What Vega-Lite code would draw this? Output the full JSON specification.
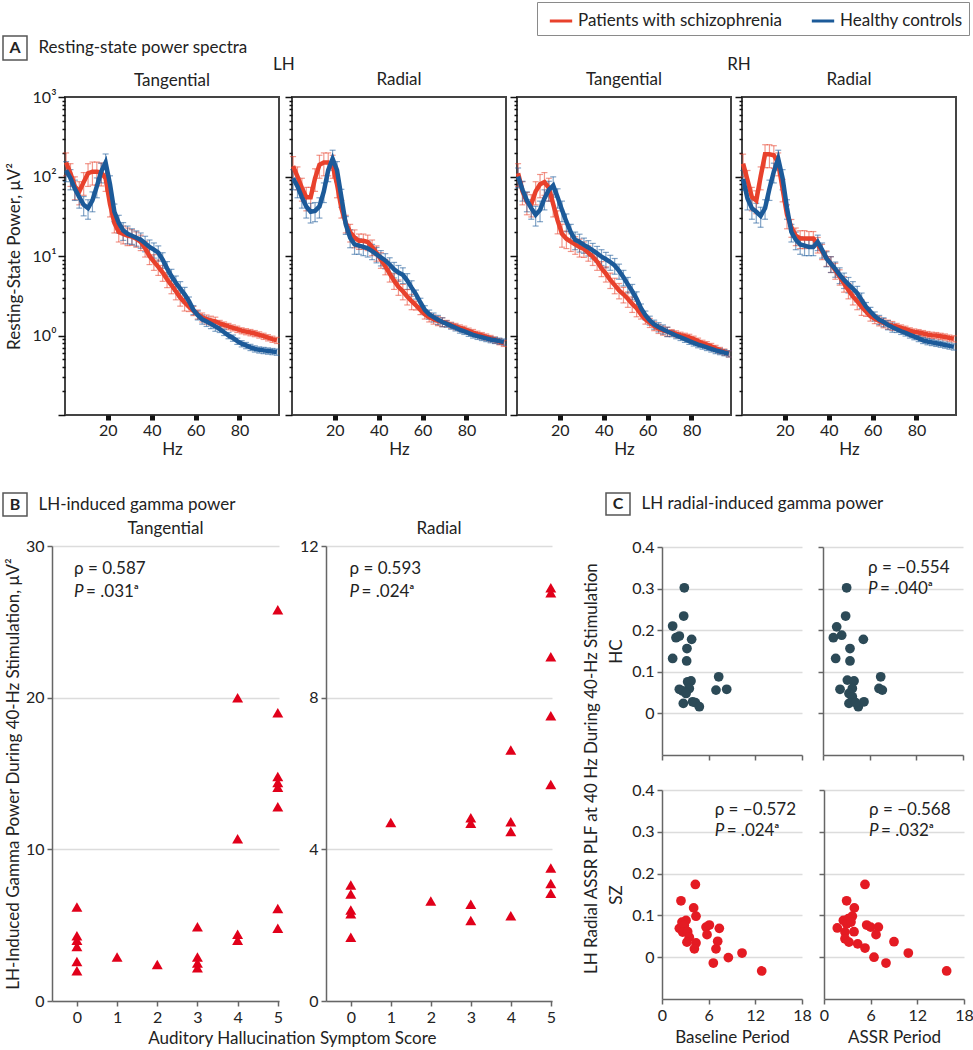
{
  "$schema": "https://vega.github.io/schema/vega-lite/v6.json",
  "padding": {"left": 2, "top": 1, "right": 0, "bottom": 0},
  "background": "white",
  "config": {
    "font": "Lato",
    "view": {"stroke": null},
    "axis": {"labelFont": "Lato", "titleFont": "Lato", "labelFontSize": 16, "titleFontSize": 17, "titleFontWeight": "normal", "labelColor": "#222", "titleColor": "#222", "domainColor": "#666", "domainWidth": 1.5, "tickColor": "#666", "tickWidth": 1.5, "gridColor": "#dcdcdc", "gridWidth": 1.5, "labelFlush": false},
    "title": {"font": "Lato", "fontSize": 17, "fontWeight": "normal", "color": "#222"},
    "legend": {"orient": "none", "legendX": 534, "legendY": -34, "direction": "horizontal", "strokeColor": "#8a8a8a", "padding": 6, "symbolOffset": 5, "symbolType": "stroke", "symbolStrokeWidth": 3, "symbolSize": 500, "symbolOpacity": 1, "labelFontSize": 17, "labelFont": "Lato", "labelColor": "#222", "labelLimit": 0, "columnPadding": 22, "labelOffset": 4}
  },
  "datasets": {
    "spectra": [
      {"p":"LT","g":"SZ","f":1,"v":150,"e":48},{"p":"LT","g":"SZ","f":3,"v":110,"e":35},{"p":"LT","g":"SZ","f":5,"v":75,"e":24},{"p":"LT","g":"SZ","f":7,"v":65,"e":21},{"p":"LT","g":"SZ","f":9,"v":85,"e":27},{"p":"LT","g":"SZ","f":11,"v":110,"e":35},{"p":"LT","g":"SZ","f":13,"v":115,"e":37},{"p":"LT","g":"SZ","f":15,"v":115,"e":37},{"p":"LT","g":"SZ","f":17,"v":112,"e":36},{"p":"LT","g":"SZ","f":19,"v":95,"e":30},{"p":"LT","g":"SZ","f":21,"v":45,"e":14},{"p":"LT","g":"SZ","f":23,"v":26,"e":6.5},{"p":"LT","g":"SZ","f":25,"v":20,"e":5},{"p":"LT","g":"SZ","f":27,"v":19,"e":4.8},{"p":"LT","g":"SZ","f":29,"v":18,"e":4.5},{"p":"LT","g":"SZ","f":31,"v":17.5,"e":3.9},{"p":"LT","g":"SZ","f":33,"v":16.5,"e":3.6},{"p":"LT","g":"SZ","f":35,"v":15,"e":3.3},{"p":"LT","g":"SZ","f":37,"v":12.5,"e":2.8},{"p":"LT","g":"SZ","f":39,"v":10,"e":2.2},{"p":"LT","g":"SZ","f":41,"v":8.5,"e":1.9},{"p":"LT","g":"SZ","f":43,"v":7.3,"e":1.6},{"p":"LT","g":"SZ","f":45,"v":6.2,"e":1.4},{"p":"LT","g":"SZ","f":47,"v":5.1,"e":1.1},{"p":"LT","g":"SZ","f":49,"v":4.3,"e":0.95},{"p":"LT","g":"SZ","f":51,"v":3.6,"e":0.79},{"p":"LT","g":"SZ","f":53,"v":3,"e":0.66},{"p":"LT","g":"SZ","f":55,"v":2.6,"e":0.57},{"p":"LT","g":"SZ","f":57,"v":2.3,"e":0.3},{"p":"LT","g":"SZ","f":59,"v":2.05,"e":0.27},{"p":"LT","g":"SZ","f":61,"v":1.85,"e":0.24},{"p":"LT","g":"SZ","f":63,"v":1.7,"e":0.22},{"p":"LT","g":"SZ","f":65,"v":1.6,"e":0.21},{"p":"LT","g":"SZ","f":67,"v":1.55,"e":0.2},{"p":"LT","g":"SZ","f":69,"v":1.5,"e":0.2},{"p":"LT","g":"SZ","f":71,"v":1.42,"e":0.13},{"p":"LT","g":"SZ","f":73,"v":1.36,"e":0.12},{"p":"LT","g":"SZ","f":75,"v":1.3,"e":0.12},{"p":"LT","g":"SZ","f":77,"v":1.25,"e":0.11},{"p":"LT","g":"SZ","f":79,"v":1.2,"e":0.11},{"p":"LT","g":"SZ","f":81,"v":1.15,"e":0.1},{"p":"LT","g":"SZ","f":83,"v":1.12,"e":0.1},{"p":"LT","g":"SZ","f":85,"v":1.09,"e":0.1},{"p":"LT","g":"SZ","f":87,"v":1.06,"e":0.095},{"p":"LT","g":"SZ","f":89,"v":1.02,"e":0.092},{"p":"LT","g":"SZ","f":91,"v":0.98,"e":0.088},{"p":"LT","g":"SZ","f":93,"v":0.94,"e":0.085},{"p":"LT","g":"SZ","f":95,"v":0.9,"e":0.081},{"p":"LT","g":"SZ","f":97,"v":0.87,"e":0.078},
      {"p":"LT","g":"HC","f":1,"v":120,"e":34},{"p":"LT","g":"HC","f":3,"v":95,"e":27},{"p":"LT","g":"HC","f":5,"v":70,"e":20},{"p":"LT","g":"HC","f":7,"v":55,"e":15},{"p":"LT","g":"HC","f":9,"v":44,"e":12},{"p":"LT","g":"HC","f":11,"v":40,"e":11},{"p":"LT","g":"HC","f":13,"v":50,"e":14},{"p":"LT","g":"HC","f":15,"v":75,"e":21},{"p":"LT","g":"HC","f":17,"v":115,"e":32},{"p":"LT","g":"HC","f":19,"v":150,"e":42},{"p":"LT","g":"HC","f":21,"v":80,"e":22},{"p":"LT","g":"HC","f":23,"v":36,"e":9},{"p":"LT","g":"HC","f":25,"v":26,"e":6.5},{"p":"LT","g":"HC","f":27,"v":21,"e":5.3},{"p":"LT","g":"HC","f":29,"v":19,"e":4.8},{"p":"LT","g":"HC","f":31,"v":18,"e":4},{"p":"LT","g":"HC","f":33,"v":17,"e":3.7},{"p":"LT","g":"HC","f":35,"v":16,"e":3.5},{"p":"LT","g":"HC","f":37,"v":14.5,"e":3.2},{"p":"LT","g":"HC","f":39,"v":13,"e":2.9},{"p":"LT","g":"HC","f":41,"v":12,"e":2.6},{"p":"LT","g":"HC","f":43,"v":11,"e":2.4},{"p":"LT","g":"HC","f":45,"v":9,"e":2},{"p":"LT","g":"HC","f":47,"v":7,"e":1.5},{"p":"LT","g":"HC","f":49,"v":5.6,"e":1.2},{"p":"LT","g":"HC","f":51,"v":4.6,"e":1},{"p":"LT","g":"HC","f":53,"v":3.9,"e":0.86},{"p":"LT","g":"HC","f":55,"v":3.3,"e":0.73},{"p":"LT","g":"HC","f":57,"v":2.7,"e":0.35},{"p":"LT","g":"HC","f":59,"v":2.1,"e":0.27},{"p":"LT","g":"HC","f":61,"v":1.8,"e":0.23},{"p":"LT","g":"HC","f":63,"v":1.6,"e":0.21},{"p":"LT","g":"HC","f":65,"v":1.5,"e":0.2},{"p":"LT","g":"HC","f":67,"v":1.4,"e":0.18},{"p":"LT","g":"HC","f":69,"v":1.3,"e":0.17},{"p":"LT","g":"HC","f":71,"v":1.2,"e":0.11},{"p":"LT","g":"HC","f":73,"v":1.1,"e":0.1},{"p":"LT","g":"HC","f":75,"v":1,"e":0.09},{"p":"LT","g":"HC","f":77,"v":0.93,"e":0.084},{"p":"LT","g":"HC","f":79,"v":0.85,"e":0.077},{"p":"LT","g":"HC","f":81,"v":0.79,"e":0.071},{"p":"LT","g":"HC","f":83,"v":0.75,"e":0.068},{"p":"LT","g":"HC","f":85,"v":0.71,"e":0.064},{"p":"LT","g":"HC","f":87,"v":0.68,"e":0.061},{"p":"LT","g":"HC","f":89,"v":0.66,"e":0.059},{"p":"LT","g":"HC","f":91,"v":0.65,"e":0.059},{"p":"LT","g":"HC","f":93,"v":0.64,"e":0.058},{"p":"LT","g":"HC","f":95,"v":0.63,"e":0.057},{"p":"LT","g":"HC","f":97,"v":0.62,"e":0.056},
      {"p":"LR","g":"SZ","f":1,"v":135,"e":43},{"p":"LR","g":"SZ","f":3,"v":100,"e":32},{"p":"LR","g":"SZ","f":5,"v":72,"e":23},{"p":"LR","g":"SZ","f":7,"v":55,"e":18},{"p":"LR","g":"SZ","f":9,"v":55,"e":18},{"p":"LR","g":"SZ","f":11,"v":95,"e":30},{"p":"LR","g":"SZ","f":13,"v":140,"e":45},{"p":"LR","g":"SZ","f":15,"v":150,"e":48},{"p":"LR","g":"SZ","f":17,"v":150,"e":48},{"p":"LR","g":"SZ","f":19,"v":140,"e":45},{"p":"LR","g":"SZ","f":21,"v":80,"e":26},{"p":"LR","g":"SZ","f":23,"v":40,"e":10},{"p":"LR","g":"SZ","f":25,"v":26,"e":6.5},{"p":"LR","g":"SZ","f":27,"v":20,"e":5},{"p":"LR","g":"SZ","f":29,"v":17,"e":4.3},{"p":"LR","g":"SZ","f":31,"v":15.5,"e":3.4},{"p":"LR","g":"SZ","f":33,"v":15.5,"e":3.4},{"p":"LR","g":"SZ","f":35,"v":15,"e":3.3},{"p":"LR","g":"SZ","f":37,"v":13,"e":2.9},{"p":"LR","g":"SZ","f":39,"v":11,"e":2.4},{"p":"LR","g":"SZ","f":41,"v":9,"e":2},{"p":"LR","g":"SZ","f":43,"v":7.4,"e":1.6},{"p":"LR","g":"SZ","f":45,"v":6,"e":1.3},{"p":"LR","g":"SZ","f":47,"v":4.9,"e":1.1},{"p":"LR","g":"SZ","f":49,"v":4.1,"e":0.9},{"p":"LR","g":"SZ","f":51,"v":3.6,"e":0.79},{"p":"LR","g":"SZ","f":53,"v":3.1,"e":0.68},{"p":"LR","g":"SZ","f":55,"v":2.7,"e":0.59},{"p":"LR","g":"SZ","f":57,"v":2.4,"e":0.31},{"p":"LR","g":"SZ","f":59,"v":2.1,"e":0.27},{"p":"LR","g":"SZ","f":61,"v":1.85,"e":0.24},{"p":"LR","g":"SZ","f":63,"v":1.7,"e":0.22},{"p":"LR","g":"SZ","f":65,"v":1.6,"e":0.21},{"p":"LR","g":"SZ","f":67,"v":1.53,"e":0.2},{"p":"LR","g":"SZ","f":69,"v":1.48,"e":0.19},{"p":"LR","g":"SZ","f":71,"v":1.42,"e":0.13},{"p":"LR","g":"SZ","f":73,"v":1.35,"e":0.12},{"p":"LR","g":"SZ","f":75,"v":1.3,"e":0.12},{"p":"LR","g":"SZ","f":77,"v":1.25,"e":0.11},{"p":"LR","g":"SZ","f":79,"v":1.2,"e":0.11},{"p":"LR","g":"SZ","f":81,"v":1.14,"e":0.1},{"p":"LR","g":"SZ","f":83,"v":1.09,"e":0.1},{"p":"LR","g":"SZ","f":85,"v":1.04,"e":0.094},{"p":"LR","g":"SZ","f":87,"v":1,"e":0.09},{"p":"LR","g":"SZ","f":89,"v":0.96,"e":0.086},{"p":"LR","g":"SZ","f":91,"v":0.92,"e":0.083},{"p":"LR","g":"SZ","f":93,"v":0.88,"e":0.079},{"p":"LR","g":"SZ","f":95,"v":0.84,"e":0.076},{"p":"LR","g":"SZ","f":97,"v":0.8,"e":0.072},
      {"p":"LR","g":"HC","f":1,"v":95,"e":27},{"p":"LR","g":"HC","f":3,"v":75,"e":21},{"p":"LR","g":"HC","f":5,"v":55,"e":15},{"p":"LR","g":"HC","f":7,"v":42,"e":12},{"p":"LR","g":"HC","f":9,"v":36,"e":10},{"p":"LR","g":"HC","f":11,"v":37,"e":10},{"p":"LR","g":"HC","f":13,"v":42,"e":12},{"p":"LR","g":"HC","f":15,"v":65,"e":18},{"p":"LR","g":"HC","f":17,"v":120,"e":34},{"p":"LR","g":"HC","f":19,"v":167,"e":47},{"p":"LR","g":"HC","f":21,"v":120,"e":34},{"p":"LR","g":"HC","f":23,"v":55,"e":14},{"p":"LR","g":"HC","f":25,"v":25,"e":6.3},{"p":"LR","g":"HC","f":27,"v":17,"e":4.3},{"p":"LR","g":"HC","f":29,"v":14,"e":3.5},{"p":"LR","g":"HC","f":31,"v":13.5,"e":3},{"p":"LR","g":"HC","f":33,"v":13,"e":2.9},{"p":"LR","g":"HC","f":35,"v":12.5,"e":2.8},{"p":"LR","g":"HC","f":37,"v":11.5,"e":2.5},{"p":"LR","g":"HC","f":39,"v":10.5,"e":2.3},{"p":"LR","g":"HC","f":41,"v":9.6,"e":2.1},{"p":"LR","g":"HC","f":43,"v":8.8,"e":1.9},{"p":"LR","g":"HC","f":45,"v":7.8,"e":1.7},{"p":"LR","g":"HC","f":47,"v":6.8,"e":1.5},{"p":"LR","g":"HC","f":49,"v":6.2,"e":1.4},{"p":"LR","g":"HC","f":51,"v":5.8,"e":1.3},{"p":"LR","g":"HC","f":53,"v":4.9,"e":1.1},{"p":"LR","g":"HC","f":55,"v":4,"e":0.88},{"p":"LR","g":"HC","f":57,"v":3.3,"e":0.43},{"p":"LR","g":"HC","f":59,"v":2.6,"e":0.34},{"p":"LR","g":"HC","f":61,"v":2.1,"e":0.27},{"p":"LR","g":"HC","f":63,"v":1.85,"e":0.24},{"p":"LR","g":"HC","f":65,"v":1.7,"e":0.22},{"p":"LR","g":"HC","f":67,"v":1.58,"e":0.21},{"p":"LR","g":"HC","f":69,"v":1.48,"e":0.19},{"p":"LR","g":"HC","f":71,"v":1.4,"e":0.13},{"p":"LR","g":"HC","f":73,"v":1.32,"e":0.12},{"p":"LR","g":"HC","f":75,"v":1.25,"e":0.11},{"p":"LR","g":"HC","f":77,"v":1.18,"e":0.11},{"p":"LR","g":"HC","f":79,"v":1.13,"e":0.1},{"p":"LR","g":"HC","f":81,"v":1.07,"e":0.096},{"p":"LR","g":"HC","f":83,"v":1.02,"e":0.092},{"p":"LR","g":"HC","f":85,"v":0.98,"e":0.088},{"p":"LR","g":"HC","f":87,"v":0.95,"e":0.086},{"p":"LR","g":"HC","f":89,"v":0.92,"e":0.083},{"p":"LR","g":"HC","f":91,"v":0.89,"e":0.08},{"p":"LR","g":"HC","f":93,"v":0.87,"e":0.078},{"p":"LR","g":"HC","f":95,"v":0.85,"e":0.077},{"p":"LR","g":"HC","f":97,"v":0.83,"e":0.075},
      {"p":"RT","g":"SZ","f":1,"v":110,"e":35},{"p":"RT","g":"SZ","f":3,"v":65,"e":21},{"p":"RT","g":"SZ","f":5,"v":48,"e":15},{"p":"RT","g":"SZ","f":7,"v":45,"e":14},{"p":"RT","g":"SZ","f":9,"v":65,"e":21},{"p":"RT","g":"SZ","f":11,"v":80,"e":26},{"p":"RT","g":"SZ","f":13,"v":85,"e":27},{"p":"RT","g":"SZ","f":15,"v":72,"e":23},{"p":"RT","g":"SZ","f":17,"v":45,"e":14},{"p":"RT","g":"SZ","f":19,"v":28,"e":9},{"p":"RT","g":"SZ","f":21,"v":19,"e":6.1},{"p":"RT","g":"SZ","f":23,"v":16.5,"e":4.1},{"p":"RT","g":"SZ","f":25,"v":15.2,"e":3.8},{"p":"RT","g":"SZ","f":27,"v":14,"e":3.5},{"p":"RT","g":"SZ","f":29,"v":13,"e":3.3},{"p":"RT","g":"SZ","f":31,"v":12.3,"e":2.7},{"p":"RT","g":"SZ","f":33,"v":11,"e":2.4},{"p":"RT","g":"SZ","f":35,"v":9.8,"e":2.2},{"p":"RT","g":"SZ","f":37,"v":8.5,"e":1.9},{"p":"RT","g":"SZ","f":39,"v":7,"e":1.5},{"p":"RT","g":"SZ","f":41,"v":6,"e":1.3},{"p":"RT","g":"SZ","f":43,"v":5,"e":1.1},{"p":"RT","g":"SZ","f":45,"v":4.3,"e":0.95},{"p":"RT","g":"SZ","f":47,"v":3.7,"e":0.81},{"p":"RT","g":"SZ","f":49,"v":3.3,"e":0.73},{"p":"RT","g":"SZ","f":51,"v":2.9,"e":0.64},{"p":"RT","g":"SZ","f":53,"v":2.5,"e":0.55},{"p":"RT","g":"SZ","f":55,"v":2.2,"e":0.48},{"p":"RT","g":"SZ","f":57,"v":1.85,"e":0.24},{"p":"RT","g":"SZ","f":59,"v":1.6,"e":0.21},{"p":"RT","g":"SZ","f":61,"v":1.45,"e":0.19},{"p":"RT","g":"SZ","f":63,"v":1.32,"e":0.17},{"p":"RT","g":"SZ","f":65,"v":1.22,"e":0.16},{"p":"RT","g":"SZ","f":67,"v":1.16,"e":0.15},{"p":"RT","g":"SZ","f":69,"v":1.12,"e":0.15},{"p":"RT","g":"SZ","f":71,"v":1.09,"e":0.098},{"p":"RT","g":"SZ","f":73,"v":1.05,"e":0.095},{"p":"RT","g":"SZ","f":75,"v":1.01,"e":0.091},{"p":"RT","g":"SZ","f":77,"v":0.98,"e":0.088},{"p":"RT","g":"SZ","f":79,"v":0.95,"e":0.086},{"p":"RT","g":"SZ","f":81,"v":0.9,"e":0.081},{"p":"RT","g":"SZ","f":83,"v":0.85,"e":0.077},{"p":"RT","g":"SZ","f":85,"v":0.8,"e":0.072},{"p":"RT","g":"SZ","f":87,"v":0.77,"e":0.069},{"p":"RT","g":"SZ","f":89,"v":0.73,"e":0.066},{"p":"RT","g":"SZ","f":91,"v":0.69,"e":0.062},{"p":"RT","g":"SZ","f":93,"v":0.65,"e":0.059},{"p":"RT","g":"SZ","f":95,"v":0.62,"e":0.056},{"p":"RT","g":"SZ","f":97,"v":0.59,"e":0.053},
      {"p":"RT","g":"HC","f":1,"v":100,"e":28},{"p":"RT","g":"HC","f":3,"v":68,"e":19},{"p":"RT","g":"HC","f":5,"v":50,"e":14},{"p":"RT","g":"HC","f":7,"v":40,"e":11},{"p":"RT","g":"HC","f":9,"v":33,"e":9.2},{"p":"RT","g":"HC","f":11,"v":38,"e":11},{"p":"RT","g":"HC","f":13,"v":53,"e":15},{"p":"RT","g":"HC","f":15,"v":68,"e":19},{"p":"RT","g":"HC","f":17,"v":77,"e":22},{"p":"RT","g":"HC","f":19,"v":55,"e":15},{"p":"RT","g":"HC","f":21,"v":38,"e":11},{"p":"RT","g":"HC","f":23,"v":27,"e":6.8},{"p":"RT","g":"HC","f":25,"v":20,"e":5},{"p":"RT","g":"HC","f":27,"v":16,"e":4},{"p":"RT","g":"HC","f":29,"v":15,"e":3.8},{"p":"RT","g":"HC","f":31,"v":13.8,"e":3},{"p":"RT","g":"HC","f":33,"v":12.8,"e":2.8},{"p":"RT","g":"HC","f":35,"v":11.8,"e":2.6},{"p":"RT","g":"HC","f":37,"v":10.8,"e":2.4},{"p":"RT","g":"HC","f":39,"v":9.8,"e":2.2},{"p":"RT","g":"HC","f":41,"v":9.1,"e":2},{"p":"RT","g":"HC","f":43,"v":8.4,"e":1.8},{"p":"RT","g":"HC","f":45,"v":7.6,"e":1.7},{"p":"RT","g":"HC","f":47,"v":6.5,"e":1.4},{"p":"RT","g":"HC","f":49,"v":5.4,"e":1.2},{"p":"RT","g":"HC","f":51,"v":4.4,"e":0.97},{"p":"RT","g":"HC","f":53,"v":3.6,"e":0.79},{"p":"RT","g":"HC","f":55,"v":2.9,"e":0.64},{"p":"RT","g":"HC","f":57,"v":2.2,"e":0.29},{"p":"RT","g":"HC","f":59,"v":1.8,"e":0.23},{"p":"RT","g":"HC","f":61,"v":1.55,"e":0.2},{"p":"RT","g":"HC","f":63,"v":1.38,"e":0.18},{"p":"RT","g":"HC","f":65,"v":1.28,"e":0.17},{"p":"RT","g":"HC","f":67,"v":1.2,"e":0.16},{"p":"RT","g":"HC","f":69,"v":1.12,"e":0.15},{"p":"RT","g":"HC","f":71,"v":1.06,"e":0.095},{"p":"RT","g":"HC","f":73,"v":1,"e":0.09},{"p":"RT","g":"HC","f":75,"v":0.95,"e":0.086},{"p":"RT","g":"HC","f":77,"v":0.9,"e":0.081},{"p":"RT","g":"HC","f":79,"v":0.85,"e":0.077},{"p":"RT","g":"HC","f":81,"v":0.81,"e":0.073},{"p":"RT","g":"HC","f":83,"v":0.77,"e":0.069},{"p":"RT","g":"HC","f":85,"v":0.74,"e":0.067},{"p":"RT","g":"HC","f":87,"v":0.71,"e":0.064},{"p":"RT","g":"HC","f":89,"v":0.68,"e":0.061},{"p":"RT","g":"HC","f":91,"v":0.65,"e":0.059},{"p":"RT","g":"HC","f":93,"v":0.63,"e":0.057},{"p":"RT","g":"HC","f":95,"v":0.61,"e":0.055},{"p":"RT","g":"HC","f":97,"v":0.59,"e":0.053},
      {"p":"RR","g":"SZ","f":1,"v":145,"e":46},{"p":"RR","g":"SZ","f":3,"v":90,"e":29},{"p":"RR","g":"SZ","f":5,"v":55,"e":18},{"p":"RR","g":"SZ","f":7,"v":50,"e":16},{"p":"RR","g":"SZ","f":9,"v":100,"e":32},{"p":"RR","g":"SZ","f":11,"v":190,"e":61},{"p":"RR","g":"SZ","f":13,"v":190,"e":61},{"p":"RR","g":"SZ","f":15,"v":185,"e":59},{"p":"RR","g":"SZ","f":17,"v":150,"e":48},{"p":"RR","g":"SZ","f":19,"v":70,"e":22},{"p":"RR","g":"SZ","f":21,"v":33,"e":11},{"p":"RR","g":"SZ","f":23,"v":23,"e":5.8},{"p":"RR","g":"SZ","f":25,"v":18,"e":4.5},{"p":"RR","g":"SZ","f":27,"v":16.6,"e":4.2},{"p":"RR","g":"SZ","f":29,"v":16.6,"e":4.2},{"p":"RR","g":"SZ","f":31,"v":16.6,"e":3.7},{"p":"RR","g":"SZ","f":33,"v":16.6,"e":3.7},{"p":"RR","g":"SZ","f":35,"v":14,"e":3.1},{"p":"RR","g":"SZ","f":37,"v":11.5,"e":2.5},{"p":"RR","g":"SZ","f":39,"v":9.5,"e":2.1},{"p":"RR","g":"SZ","f":41,"v":8,"e":1.8},{"p":"RR","g":"SZ","f":43,"v":6.6,"e":1.5},{"p":"RR","g":"SZ","f":45,"v":5.5,"e":1.2},{"p":"RR","g":"SZ","f":47,"v":4.5,"e":0.99},{"p":"RR","g":"SZ","f":49,"v":3.7,"e":0.81},{"p":"RR","g":"SZ","f":51,"v":3.1,"e":0.68},{"p":"RR","g":"SZ","f":53,"v":2.7,"e":0.59},{"p":"RR","g":"SZ","f":55,"v":2.3,"e":0.51},{"p":"RR","g":"SZ","f":57,"v":2,"e":0.26},{"p":"RR","g":"SZ","f":59,"v":1.75,"e":0.23},{"p":"RR","g":"SZ","f":61,"v":1.62,"e":0.21},{"p":"RR","g":"SZ","f":63,"v":1.52,"e":0.2},{"p":"RR","g":"SZ","f":65,"v":1.44,"e":0.19},{"p":"RR","g":"SZ","f":67,"v":1.38,"e":0.18},{"p":"RR","g":"SZ","f":69,"v":1.33,"e":0.17},{"p":"RR","g":"SZ","f":71,"v":1.3,"e":0.12},{"p":"RR","g":"SZ","f":73,"v":1.25,"e":0.11},{"p":"RR","g":"SZ","f":75,"v":1.2,"e":0.11},{"p":"RR","g":"SZ","f":77,"v":1.15,"e":0.1},{"p":"RR","g":"SZ","f":79,"v":1.11,"e":0.1},{"p":"RR","g":"SZ","f":81,"v":1.09,"e":0.098},{"p":"RR","g":"SZ","f":83,"v":1.06,"e":0.095},{"p":"RR","g":"SZ","f":85,"v":1.03,"e":0.093},{"p":"RR","g":"SZ","f":87,"v":1.01,"e":0.091},{"p":"RR","g":"SZ","f":89,"v":1,"e":0.09},{"p":"RR","g":"SZ","f":91,"v":0.98,"e":0.088},{"p":"RR","g":"SZ","f":93,"v":0.96,"e":0.086},{"p":"RR","g":"SZ","f":95,"v":0.93,"e":0.084},{"p":"RR","g":"SZ","f":97,"v":0.91,"e":0.082},
      {"p":"RR","g":"HC","f":1,"v":93,"e":26},{"p":"RR","g":"HC","f":3,"v":53,"e":15},{"p":"RR","g":"HC","f":5,"v":40,"e":11},{"p":"RR","g":"HC","f":7,"v":36,"e":10},{"p":"RR","g":"HC","f":9,"v":32,"e":9},{"p":"RR","g":"HC","f":11,"v":40,"e":11},{"p":"RR","g":"HC","f":13,"v":70,"e":20},{"p":"RR","g":"HC","f":15,"v":115,"e":32},{"p":"RR","g":"HC","f":17,"v":167,"e":47},{"p":"RR","g":"HC","f":19,"v":95,"e":27},{"p":"RR","g":"HC","f":21,"v":40,"e":11},{"p":"RR","g":"HC","f":23,"v":20,"e":5},{"p":"RR","g":"HC","f":25,"v":16,"e":4},{"p":"RR","g":"HC","f":27,"v":14,"e":3.5},{"p":"RR","g":"HC","f":29,"v":13.5,"e":3.4},{"p":"RR","g":"HC","f":31,"v":13,"e":2.9},{"p":"RR","g":"HC","f":33,"v":13,"e":2.9},{"p":"RR","g":"HC","f":35,"v":15,"e":3.3},{"p":"RR","g":"HC","f":37,"v":12,"e":2.6},{"p":"RR","g":"HC","f":39,"v":9.3,"e":2},{"p":"RR","g":"HC","f":41,"v":8,"e":1.8},{"p":"RR","g":"HC","f":43,"v":6.9,"e":1.5},{"p":"RR","g":"HC","f":45,"v":5.8,"e":1.3},{"p":"RR","g":"HC","f":47,"v":5,"e":1.1},{"p":"RR","g":"HC","f":49,"v":4.4,"e":0.97},{"p":"RR","g":"HC","f":51,"v":3.9,"e":0.86},{"p":"RR","g":"HC","f":53,"v":3.4,"e":0.75},{"p":"RR","g":"HC","f":55,"v":2.8,"e":0.62},{"p":"RR","g":"HC","f":57,"v":2.3,"e":0.3},{"p":"RR","g":"HC","f":59,"v":2,"e":0.26},{"p":"RR","g":"HC","f":61,"v":1.75,"e":0.23},{"p":"RR","g":"HC","f":63,"v":1.58,"e":0.21},{"p":"RR","g":"HC","f":65,"v":1.48,"e":0.19},{"p":"RR","g":"HC","f":67,"v":1.36,"e":0.18},{"p":"RR","g":"HC","f":69,"v":1.27,"e":0.17},{"p":"RR","g":"HC","f":71,"v":1.2,"e":0.11},{"p":"RR","g":"HC","f":73,"v":1.13,"e":0.1},{"p":"RR","g":"HC","f":75,"v":1.08,"e":0.097},{"p":"RR","g":"HC","f":77,"v":1.02,"e":0.092},{"p":"RR","g":"HC","f":79,"v":0.97,"e":0.087},{"p":"RR","g":"HC","f":81,"v":0.92,"e":0.083},{"p":"RR","g":"HC","f":83,"v":0.87,"e":0.078},{"p":"RR","g":"HC","f":85,"v":0.84,"e":0.076},{"p":"RR","g":"HC","f":87,"v":0.82,"e":0.074},{"p":"RR","g":"HC","f":89,"v":0.8,"e":0.072},{"p":"RR","g":"HC","f":91,"v":0.78,"e":0.07},{"p":"RR","g":"HC","f":93,"v":0.76,"e":0.068},{"p":"RR","g":"HC","f":95,"v":0.74,"e":0.067},{"p":"RR","g":"HC","f":97,"v":0.72,"e":0.065}
    ],
    "bt": [
      {"s":0,"v":6.2},{"s":0,"v":4.3},{"s":0,"v":4.0},{"s":0,"v":3.6},{"s":0,"v":2.6},{"s":0,"v":2.0},
      {"s":1,"v":2.9},{"s":2,"v":2.4},
      {"s":3,"v":4.9},{"s":3,"v":2.9},{"s":3,"v":2.5},{"s":3,"v":2.2},
      {"s":4,"v":20.0},{"s":4,"v":10.7},{"s":4,"v":4.4},{"s":4,"v":4.0},
      {"s":5,"v":25.8},{"s":5,"v":19.0},{"s":5,"v":14.8},{"s":5,"v":14.4},{"s":5,"v":14.1},{"s":5,"v":12.8},{"s":5,"v":6.1},{"s":5,"v":4.8}
    ],
    "br": [
      {"s":0,"v":3.06},{"s":0,"v":2.82},{"s":0,"v":2.4},{"s":0,"v":2.3},{"s":0,"v":1.68},
      {"s":1,"v":4.71},{"s":2,"v":2.64},
      {"s":3,"v":4.83},{"s":3,"v":4.69},{"s":3,"v":2.55},{"s":3,"v":2.12},
      {"s":4,"v":6.62},{"s":4,"v":4.73},{"s":4,"v":4.47},{"s":4,"v":2.25},
      {"s":5,"v":10.9},{"s":5,"v":10.77},{"s":5,"v":9.08},{"s":5,"v":7.52},{"s":5,"v":5.71},{"s":5,"v":3.51},{"s":5,"v":3.1},{"s":5,"v":2.84}
    ],
    "hcb": [
      {"x":2.87,"y":0.302},{"x":2.79,"y":0.234},{"x":1.37,"y":0.21},{"x":1.8,"y":0.182},{"x":2.23,"y":0.186},{"x":3.81,"y":0.178},{"x":3.21,"y":0.156},{"x":1.37,"y":0.132},{"x":3.17,"y":0.126},{"x":7.29,"y":0.088},{"x":3.73,"y":0.078},{"x":3.3,"y":0.076},{"x":2.23,"y":0.058},{"x":3.51,"y":0.06},{"x":2.66,"y":0.054},{"x":3.09,"y":0.048},{"x":6.94,"y":0.056},{"x":8.32,"y":0.058},{"x":2.74,"y":0.024},{"x":3.94,"y":0.028},{"x":4.29,"y":0.026},{"x":4.8,"y":0.016}
    ],
    "hca": [
      {"x":3.04,"y":0.302},{"x":2.91,"y":0.234},{"x":1.76,"y":0.208},{"x":1.33,"y":0.182},{"x":2.4,"y":0.188},{"x":5.19,"y":0.178},{"x":3.47,"y":0.156},{"x":1.63,"y":0.132},{"x":3.47,"y":0.126},{"x":7.42,"y":0.088},{"x":3.13,"y":0.08},{"x":3.99,"y":0.078},{"x":2.19,"y":0.058},{"x":3.77,"y":0.06},{"x":3.34,"y":0.048},{"x":3.77,"y":0.04},{"x":7.2,"y":0.06},{"x":7.63,"y":0.056},{"x":3.34,"y":0.024},{"x":4.54,"y":0.016},{"x":5.27,"y":0.028},{"x":4.2,"y":0.026}
    ],
    "szb": [
      {"x":4.29,"y":0.174},{"x":2.44,"y":0.135},{"x":4.07,"y":0.118},{"x":4.37,"y":0.098},{"x":2.57,"y":0.084},{"x":3.09,"y":0.088},{"x":2.23,"y":0.069},{"x":2.87,"y":0.076},{"x":5.66,"y":0.072},{"x":6.09,"y":0.077},{"x":7.37,"y":0.069},{"x":2.66,"y":0.06},{"x":3.3,"y":0.061},{"x":5.79,"y":0.054},{"x":3.51,"y":0.048},{"x":3.21,"y":0.036},{"x":4.37,"y":0.034},{"x":7.16,"y":0.038},{"x":4.16,"y":0.02},{"x":6.94,"y":0.02},{"x":8.53,"y":-0.001},{"x":10.29,"y":0.01},{"x":6.6,"y":-0.014},{"x":12.82,"y":-0.033}
    ],
    "sza": [
      {"x":5.27,"y":0.174},{"x":2.91,"y":0.135},{"x":3.9,"y":0.118},{"x":3.64,"y":0.098},{"x":2.49,"y":0.088},{"x":3.13,"y":0.092},{"x":1.71,"y":0.07},{"x":2.91,"y":0.08},{"x":3.47,"y":0.084},{"x":5.49,"y":0.077},{"x":6.0,"y":0.072},{"x":6.99,"y":0.072},{"x":2.7,"y":0.06},{"x":3.86,"y":0.061},{"x":6.69,"y":0.054},{"x":2.7,"y":0.044},{"x":3.21,"y":0.036},{"x":4.33,"y":0.032},{"x":5.27,"y":0.022},{"x":9.0,"y":0.037},{"x":6.43,"y":0.0},{"x":10.84,"y":0.01},{"x":7.97,"y":-0.014},{"x":15.77,"y":-0.033}
    ]
  },
  "spacing": 34,
  "vconcat": [
    {
      "spacing": -5,
      "vconcat": [
        {
          "spacing": 10,
          "hconcat": [
            {
              "width": 24, "height": 24,
              "view": {"stroke": "#555", "strokeWidth": 1.5},
              "data": {"values": [{"label": "A"}]},
              "mark": {"type": "text", "fontWeight": "bold", "fontSize": 16, "color": "#222", "align": "center", "baseline": "middle"},
              "encoding": {"text": {"field": "label", "type": "nominal"}}
            },
            {
              "width": 1, "height": 24,
              "data": {"values": [{"label": "Resting-state power spectra"}]},
              "mark": {"type": "text", "fontSize": 17, "color": "#222", "align": "left", "baseline": "middle"},
              "encoding": {"text": {"field": "label", "type": "nominal"}}
            }
          ]
        },
        {
          "spacing": 0,
          "hconcat": [
            {"width": 1, "height": 1, "data": {"values": []}, "mark": {"type": "point"}},
            {
              "spacing": -6,
              "hconcat": [
                {
                  "title": {"text": "LH", "anchor": "middle", "offset": -4, "dx": 25},
                  "bounds": "flush",
                  "spacing": 13,
                  "hconcat": [
                    {
                      "width": 214, "height": 318,
                      "view": {"stroke": "#444", "strokeWidth": 2},
                      "title": {"text": "Tangential", "offset": -1},
                      "data": {"name": "spectra"},
                      "transform": [{"filter": "datum.p == 'LT'"}],
                      "encoding": {
                        "x": {"field": "f", "type": "quantitative", "scale": {"domain": [0.5, 98], "nice": false, "zero": false}, "axis": {"values": [20, 40, 60, 80], "title": "Hz", "tickSize": 5, "tickWidth": 5, "tickColor": "#111", "domain": false, "grid": false, "labelPadding": 2, "titlePadding": 3}},
                        "y": {"field": "v", "type": "quantitative", "scale": {"type": "log", "domain": [0.1, 1000], "nice": false}, "axis": {"values": [0.1,0.2,0.3,0.4,0.5,0.6,0.7,0.8,0.9,1,2,3,4,5,6,7,8,9,10,20,30,40,50,60,70,80,90,100,200,300,400,500,600,700,800,900,1000], "labelExpr": "datum.value == 1000 ? '10³' : datum.value == 100 ? '10²' : datum.value == 10 ? '10¹' : datum.value == 1 ? '10⁰' : ''", "labelOverlap": false, "title": "Resting-State Power, μV²", "tickSize": {"condition": {"test": "indexof([0.1,1,10,100,1000], datum.value) >= 0", "value": 7}, "value": 3}, "tickColor": "#111", "tickWidth": 1.5, "domain": false, "grid": false, "labelPadding": 2, "titlePadding": 9}},
                        "color": {"field": "g", "type": "nominal", "scale": {"domain": ["SZ", "HC"], "range": ["#e8412c", "#1c5a99"]}, "legend": {"title": null, "labelExpr": "datum.label == 'SZ' ? 'Patients with schizophrenia' : 'Healthy controls'"}}
                      },
                      "layer": [
                        {"mark": {"type": "errorbar", "ticks": true, "size": 6, "thickness": 1.2, "opacity": 0.55}, "encoding": {"yError": {"field": "e"}}},
                        {"mark": {"type": "line", "strokeWidth": 4.5}},
                        {"data": {"values": [{"band": "analysis"}]}, "mark": {"type": "rect"}, "encoding": {"x": {"datum": 30, "type": "quantitative"}, "x2": {"datum": 98}, "y": {"datum": 0.104, "type": "quantitative"}, "y2": {"datum": 0.145}, "color": {"value": "#e6e6e6"}}}
                      ]
                    },
                    {
                      "width": 214, "height": 318,
                      "view": {"stroke": "#444", "strokeWidth": 2},
                      "title": {"text": "Radial", "offset": 7},
                      "data": {"name": "spectra"},
                      "transform": [{"filter": "datum.p == 'LR'"}],
                      "encoding": {
                        "x": {"field": "f", "type": "quantitative", "scale": {"domain": [0.5, 98], "nice": false, "zero": false}, "axis": {"values": [20, 40, 60, 80], "title": "Hz", "tickSize": 5, "tickWidth": 5, "tickColor": "#111", "domain": false, "grid": false, "labelPadding": 2, "titlePadding": 3}},
                        "y": {"field": "v", "type": "quantitative", "scale": {"type": "log", "domain": [0.1, 1000], "nice": false}, "axis": {"values": [0.1,0.2,0.3,0.4,0.5,0.6,0.7,0.8,0.9,1,2,3,4,5,6,7,8,9,10,20,30,40,50,60,70,80,90,100,200,300,400,500,600,700,800,900,1000], "labels": false, "title": null, "tickSize": {"condition": {"test": "indexof([0.1,1,10,100,1000], datum.value) >= 0", "value": 7}, "value": 3}, "tickColor": "#111", "tickWidth": 1.5, "domain": false, "grid": false}},
                        "color": {"field": "g", "type": "nominal", "scale": {"domain": ["SZ", "HC"], "range": ["#e8412c", "#1c5a99"]}, "legend": {"title": null, "labelExpr": "datum.label == 'SZ' ? 'Patients with schizophrenia' : 'Healthy controls'"}}
                      },
                      "layer": [
                        {"mark": {"type": "errorbar", "ticks": true, "size": 6, "thickness": 1.2, "opacity": 0.55}, "encoding": {"yError": {"field": "e"}}},
                        {"mark": {"type": "line", "strokeWidth": 4.5}},
                        {"data": {"values": [{"band": "analysis"}]}, "mark": {"type": "rect"}, "encoding": {"x": {"datum": 30, "type": "quantitative"}, "x2": {"datum": 98}, "y": {"datum": 0.104, "type": "quantitative"}, "y2": {"datum": 0.145}, "color": {"value": "#e6e6e6"}}}
                      ]
                    }
                  ]
                },
                {
                  "title": {"text": "RH", "anchor": "middle", "offset": -4, "dx": 3},
                  "bounds": "flush",
                  "spacing": 11,
                  "hconcat": [
                    {
                      "width": 214, "height": 318,
                      "view": {"stroke": "#444", "strokeWidth": 2},
                      "title": {"text": "Tangential", "offset": 7},
                      "data": {"name": "spectra"},
                      "transform": [{"filter": "datum.p == 'RT'"}],
                      "encoding": {
                        "x": {"field": "f", "type": "quantitative", "scale": {"domain": [0.5, 98], "nice": false, "zero": false}, "axis": {"values": [20, 40, 60, 80], "title": "Hz", "tickSize": 5, "tickWidth": 5, "tickColor": "#111", "domain": false, "grid": false, "labelPadding": 2, "titlePadding": 3}},
                        "y": {"field": "v", "type": "quantitative", "scale": {"type": "log", "domain": [0.1, 1000], "nice": false}, "axis": {"values": [0.1,0.2,0.3,0.4,0.5,0.6,0.7,0.8,0.9,1,2,3,4,5,6,7,8,9,10,20,30,40,50,60,70,80,90,100,200,300,400,500,600,700,800,900,1000], "labels": false, "title": null, "tickSize": {"condition": {"test": "indexof([0.1,1,10,100,1000], datum.value) >= 0", "value": 7}, "value": 3}, "tickColor": "#111", "tickWidth": 1.5, "domain": false, "grid": false}},
                        "color": {"field": "g", "type": "nominal", "scale": {"domain": ["SZ", "HC"], "range": ["#e8412c", "#1c5a99"]}, "legend": {"title": null, "labelExpr": "datum.label == 'SZ' ? 'Patients with schizophrenia' : 'Healthy controls'"}}
                      },
                      "layer": [
                        {"mark": {"type": "errorbar", "ticks": true, "size": 6, "thickness": 1.2, "opacity": 0.55}, "encoding": {"yError": {"field": "e"}}},
                        {"mark": {"type": "line", "strokeWidth": 4.5}},
                        {"data": {"values": [{"band": "analysis"}]}, "mark": {"type": "rect"}, "encoding": {"x": {"datum": 30, "type": "quantitative"}, "x2": {"datum": 98}, "y": {"datum": 0.104, "type": "quantitative"}, "y2": {"datum": 0.145}, "color": {"value": "#e6e6e6"}}}
                      ]
                    },
                    {
                      "width": 214, "height": 318,
                      "view": {"stroke": "#444", "strokeWidth": 2},
                      "title": {"text": "Radial", "offset": 7},
                      "data": {"name": "spectra"},
                      "transform": [{"filter": "datum.p == 'RR'"}],
                      "encoding": {
                        "x": {"field": "f", "type": "quantitative", "scale": {"domain": [0.5, 98], "nice": false, "zero": false}, "axis": {"values": [20, 40, 60, 80], "title": "Hz", "tickSize": 5, "tickWidth": 5, "tickColor": "#111", "domain": false, "grid": false, "labelPadding": 2, "titlePadding": 3}},
                        "y": {"field": "v", "type": "quantitative", "scale": {"type": "log", "domain": [0.1, 1000], "nice": false}, "axis": {"values": [0.1,0.2,0.3,0.4,0.5,0.6,0.7,0.8,0.9,1,2,3,4,5,6,7,8,9,10,20,30,40,50,60,70,80,90,100,200,300,400,500,600,700,800,900,1000], "labels": false, "title": null, "tickSize": {"condition": {"test": "indexof([0.1,1,10,100,1000], datum.value) >= 0", "value": 7}, "value": 3}, "tickColor": "#111", "tickWidth": 1.5, "domain": false, "grid": false}},
                        "color": {"field": "g", "type": "nominal", "scale": {"domain": ["SZ", "HC"], "range": ["#e8412c", "#1c5a99"]}, "legend": {"title": null, "labelExpr": "datum.label == 'SZ' ? 'Patients with schizophrenia' : 'Healthy controls'"}}
                      },
                      "layer": [
                        {"mark": {"type": "errorbar", "ticks": true, "size": 6, "thickness": 1.2, "opacity": 0.55}, "encoding": {"yError": {"field": "e"}}},
                        {"mark": {"type": "line", "strokeWidth": 4.5}},
                        {"data": {"values": [{"band": "analysis"}]}, "mark": {"type": "rect"}, "encoding": {"x": {"datum": 30, "type": "quantitative"}, "x2": {"datum": 98}, "y": {"datum": 0.104, "type": "quantitative"}, "y2": {"datum": 0.145}, "color": {"value": "#e6e6e6"}}}
                      ]
                    }
                  ]
                }
              ]
            }
          ]
        }
      ]
    },
    {
      "spacing": 26,
      "hconcat": [
        {
          "spacing": 3,
          "vconcat": [
            {
              "spacing": 10,
              "hconcat": [
                {
                  "width": 24, "height": 23,
                  "view": {"stroke": "#555", "strokeWidth": 1.5},
                  "data": {"values": [{"label": "B"}]},
                  "mark": {"type": "text", "fontWeight": "bold", "fontSize": 16, "color": "#222", "align": "center", "baseline": "middle"},
                  "encoding": {"text": {"field": "label", "type": "nominal"}}
                },
                {
                  "width": 1, "height": 23,
                  "data": {"values": [{"label": "LH-induced gamma power"}]},
                  "mark": {"type": "text", "fontSize": 17, "color": "#222", "align": "left", "baseline": "middle"},
                  "encoding": {"text": {"field": "label", "type": "nominal"}}
                }
              ]
            },
            {
              "spacing": 0,
              "hconcat": [
                {"width": 1, "height": 1, "data": {"values": []}, "mark": {"type": "point"}},
                {
                  "title": {"text": "Auditory Hallucination Symptom Score", "orient": "bottom", "anchor": "middle", "offset": 6, "dx": 12},
                  "spacing": 15,
                  "hconcat": [
                    {
                      "width": 227, "height": 455,
                      "title": {"text": "Tangential", "offset": 0},
                      "layer": [
                        {
                          "data": {"name": "bt"},
                          "mark": {"type": "point", "shape": "triangle-up", "filled": true, "size": 120, "color": "#e1001a", "opacity": 1},
                          "encoding": {
                            "x": {"field": "s", "type": "quantitative", "scale": {"domain": [-0.62, 5.03], "nice": false, "zero": false}, "axis": {"values": [0, 1, 2, 3, 4, 5], "title": null, "grid": false, "tickSize": 5, "labelPadding": 3}},
                            "y": {"field": "v", "type": "quantitative", "scale": {"domain": [0, 30], "nice": false}, "axis": {"values": [0, 10, 20, 30], "title": "LH-Induced Gamma Power During 40-Hz Stimulation, μV²", "grid": true, "tickSize": 5, "labelPadding": 3, "titlePadding": 3}}
                          }
                        },
                        {"data": {"values": [{}]}, "mark": {"type": "text", "align": "left", "baseline": "middle", "fontSize": 17, "color": "#222"}, "encoding": {"x": {"datum": -0.07, "type": "quantitative"}, "y": {"datum": 28.5, "type": "quantitative"}, "text": {"value": "ρ = 0.587"}}},
                        {"data": {"values": [{}]}, "mark": {"type": "text", "align": "left", "baseline": "middle", "fontSize": 17, "fontStyle": "italic", "color": "#222"}, "encoding": {"x": {"datum": -0.07, "type": "quantitative"}, "y": {"datum": 27.0, "type": "quantitative"}, "text": {"value": "P"}}},
                        {"data": {"values": [{}]}, "mark": {"type": "text", "align": "left", "baseline": "middle", "fontSize": 17, "color": "#222", "dx": 12}, "encoding": {"x": {"datum": -0.07, "type": "quantitative"}, "y": {"datum": 27.0, "type": "quantitative"}, "text": {"value": "= .031ᵃ"}}}
                      ]
                    },
                    {
                      "width": 226, "height": 455,
                      "title": {"text": "Radial", "offset": 0},
                      "layer": [
                        {
                          "data": {"name": "br"},
                          "mark": {"type": "point", "shape": "triangle-up", "filled": true, "size": 120, "color": "#e1001a", "opacity": 1},
                          "encoding": {
                            "x": {"field": "s", "type": "quantitative", "scale": {"domain": [-0.62, 5.03], "nice": false, "zero": false}, "axis": {"values": [0, 1, 2, 3, 4, 5], "title": null, "grid": false, "tickSize": 5, "labelPadding": 3}},
                            "y": {"field": "v", "type": "quantitative", "scale": {"domain": [0, 12], "nice": false}, "axis": {"values": [0, 4, 8, 12], "title": null, "grid": true, "tickSize": 5, "labelPadding": 3}}
                          }
                        },
                        {"data": {"values": [{}]}, "mark": {"type": "text", "align": "left", "baseline": "middle", "fontSize": 17, "color": "#222"}, "encoding": {"x": {"datum": -0.03, "type": "quantitative"}, "y": {"datum": 11.4, "type": "quantitative"}, "text": {"value": "ρ = 0.593"}}},
                        {"data": {"values": [{}]}, "mark": {"type": "text", "align": "left", "baseline": "middle", "fontSize": 17, "fontStyle": "italic", "color": "#222"}, "encoding": {"x": {"datum": -0.03, "type": "quantitative"}, "y": {"datum": 10.8, "type": "quantitative"}, "text": {"value": "P"}}},
                        {"data": {"values": [{}]}, "mark": {"type": "text", "align": "left", "baseline": "middle", "fontSize": 17, "color": "#222", "dx": 12}, "encoding": {"x": {"datum": -0.03, "type": "quantitative"}, "y": {"datum": 10.8, "type": "quantitative"}, "text": {"value": "= .024ᵃ"}}}
                      ]
                    }
                  ]
                }
              ]
            }
          ]
        },
        {
          "title": {"text": "LH Radial ASSR PLF at 40 Hz During 40-Hz Stimulation", "orient": "left", "anchor": "middle", "offset": 4},
          "spacing": 23,
          "vconcat": [
            {
              "spacing": 10,
              "hconcat": [
                {
                  "width": 24, "height": 22,
                  "view": {"stroke": "#555", "strokeWidth": 1.5},
                  "data": {"values": [{"label": "C"}]},
                  "mark": {"type": "text", "fontWeight": "bold", "fontSize": 16, "color": "#222", "align": "center", "baseline": "middle"},
                  "encoding": {"text": {"field": "label", "type": "nominal"}}
                },
                {
                  "width": 1, "height": 22,
                  "data": {"values": [{"label": "LH radial-induced gamma power"}]},
                  "mark": {"type": "text", "fontSize": 17, "color": "#222", "align": "left", "baseline": "middle"},
                  "encoding": {"text": {"field": "label", "type": "nominal"}}
                }
              ]
            },
            {
              "spacing": 21,
              "vconcat": [
                {
                  "spacing": 0,
                  "hconcat": [
                    {"width": 1, "height": 1, "data": {"values": []}, "mark": {"type": "point"}},
                    {
                      "spacing": 14,
                      "hconcat": [
                        {
                          "width": 140, "height": 208,
                          "data": {"name": "hcb"},
                          "mark": {"type": "circle", "size": 95, "color": "#2c4a57", "opacity": 1},
                          "encoding": {
                            "x": {"field": "x", "type": "quantitative", "scale": {"domain": [0, 18], "nice": false, "zero": false}, "axis": {"values": [0, 6, 12, 18], "labels": false, "title": null, "grid": false, "tickSize": 5}},
                            "y": {"field": "y", "type": "quantitative", "scale": {"domain": [-0.1, 0.4], "nice": false, "zero": false}, "axis": {"values": [0, 0.1, 0.2, 0.3, 0.4], "format": "~g", "title": "HC", "grid": true, "tickSize": 5, "labelPadding": 3, "titlePadding": 6}}
                          }
                        },
                        {
                          "width": 140, "height": 208,
                          "layer": [
                            {
                              "data": {"name": "hca"},
                              "mark": {"type": "circle", "size": 95, "color": "#2c4a57", "opacity": 1},
                              "encoding": {
                                "x": {"field": "x", "type": "quantitative", "scale": {"domain": [0, 18], "nice": false, "zero": false}, "axis": {"values": [0, 6, 12, 18], "labels": false, "title": null, "grid": false, "tickSize": 5}},
                                "y": {"field": "y", "type": "quantitative", "scale": {"domain": [-0.1, 0.4], "nice": false, "zero": false}, "axis": {"values": [0, 0.1, 0.2, 0.3, 0.4], "labels": false, "title": null, "grid": true, "tickSize": 5}}
                              }
                            },
                            {"data": {"values": [{}]}, "mark": {"type": "text", "align": "left", "baseline": "middle", "fontSize": 17, "color": "#222"}, "encoding": {"x": {"datum": 5.8, "type": "quantitative"}, "y": {"datum": 0.35, "type": "quantitative"}, "text": {"value": "ρ = −0.554"}}},
                            {"data": {"values": [{}]}, "mark": {"type": "text", "align": "left", "baseline": "middle", "fontSize": 17, "fontStyle": "italic", "color": "#222"}, "encoding": {"x": {"datum": 5.8, "type": "quantitative"}, "y": {"datum": 0.30, "type": "quantitative"}, "text": {"value": "P"}}},
                            {"data": {"values": [{}]}, "mark": {"type": "text", "align": "left", "baseline": "middle", "fontSize": 17, "color": "#222", "dx": 12}, "encoding": {"x": {"datum": 5.8, "type": "quantitative"}, "y": {"datum": 0.30, "type": "quantitative"}, "text": {"value": "= .040ᵃ"}}}
                          ]
                        }
                      ]
                    }
                  ]
                },
                {
                  "spacing": 0,
                  "hconcat": [
                    {"width": 1, "height": 1, "data": {"values": []}, "mark": {"type": "point"}},
                    {
                      "spacing": 6,
                      "hconcat": [
                        {
                          "width": 140, "height": 209,
                          "layer": [
                            {
                              "data": {"name": "szb"},
                              "mark": {"type": "circle", "size": 95, "color": "#e41b23", "opacity": 1},
                              "encoding": {
                                "x": {"field": "x", "type": "quantitative", "scale": {"domain": [0, 18], "nice": false, "zero": false}, "axis": {"values": [0, 6, 12, 18], "title": "Baseline Period", "grid": false, "tickSize": 5, "labelPadding": 3, "titlePadding": 6}},
                                "y": {"field": "y", "type": "quantitative", "scale": {"domain": [-0.1, 0.4], "nice": false, "zero": false}, "axis": {"values": [0, 0.1, 0.2, 0.3, 0.4], "format": "~g", "title": "SZ", "grid": true, "tickSize": 5, "labelPadding": 3, "titlePadding": 6}}
                              }
                            },
                            {"data": {"values": [{}]}, "mark": {"type": "text", "align": "left", "baseline": "middle", "fontSize": 17, "color": "#222"}, "encoding": {"x": {"datum": 6.77, "type": "quantitative"}, "y": {"datum": 0.353, "type": "quantitative"}, "text": {"value": "ρ = −0.572"}}},
                            {"data": {"values": [{}]}, "mark": {"type": "text", "align": "left", "baseline": "middle", "fontSize": 17, "fontStyle": "italic", "color": "#222"}, "encoding": {"x": {"datum": 6.77, "type": "quantitative"}, "y": {"datum": 0.303, "type": "quantitative"}, "text": {"value": "P"}}},
                            {"data": {"values": [{}]}, "mark": {"type": "text", "align": "left", "baseline": "middle", "fontSize": 17, "color": "#222", "dx": 12}, "encoding": {"x": {"datum": 6.77, "type": "quantitative"}, "y": {"datum": 0.303, "type": "quantitative"}, "text": {"value": "= .024ᵃ"}}}
                          ]
                        },
                        {
                          "width": 140, "height": 209,
                          "layer": [
                            {
                              "data": {"name": "sza"},
                              "mark": {"type": "circle", "size": 95, "color": "#e41b23", "opacity": 1},
                              "encoding": {
                                "x": {"field": "x", "type": "quantitative", "scale": {"domain": [0, 18], "nice": false, "zero": false}, "axis": {"values": [0, 6, 12, 18], "title": "ASSR Period", "grid": false, "tickSize": 5, "labelPadding": 3, "titlePadding": 6}},
                                "y": {"field": "y", "type": "quantitative", "scale": {"domain": [-0.1, 0.4], "nice": false, "zero": false}, "axis": {"values": [0, 0.1, 0.2, 0.3, 0.4], "labels": false, "title": null, "grid": true, "tickSize": 5}}
                              }
                            },
                            {"data": {"values": [{}]}, "mark": {"type": "text", "align": "left", "baseline": "middle", "fontSize": 17, "color": "#222"}, "encoding": {"x": {"datum": 5.8, "type": "quantitative"}, "y": {"datum": 0.353, "type": "quantitative"}, "text": {"value": "ρ = −0.568"}}},
                            {"data": {"values": [{}]}, "mark": {"type": "text", "align": "left", "baseline": "middle", "fontSize": 17, "fontStyle": "italic", "color": "#222"}, "encoding": {"x": {"datum": 5.8, "type": "quantitative"}, "y": {"datum": 0.303, "type": "quantitative"}, "text": {"value": "P"}}},
                            {"data": {"values": [{}]}, "mark": {"type": "text", "align": "left", "baseline": "middle", "fontSize": 17, "color": "#222", "dx": 12}, "encoding": {"x": {"datum": 5.8, "type": "quantitative"}, "y": {"datum": 0.303, "type": "quantitative"}, "text": {"value": "= .032ᵃ"}}}
                          ]
                        }
                      ]
                    }
                  ]
                }
              ]
            }
          ]
        }
      ]
    }
  ]
}
